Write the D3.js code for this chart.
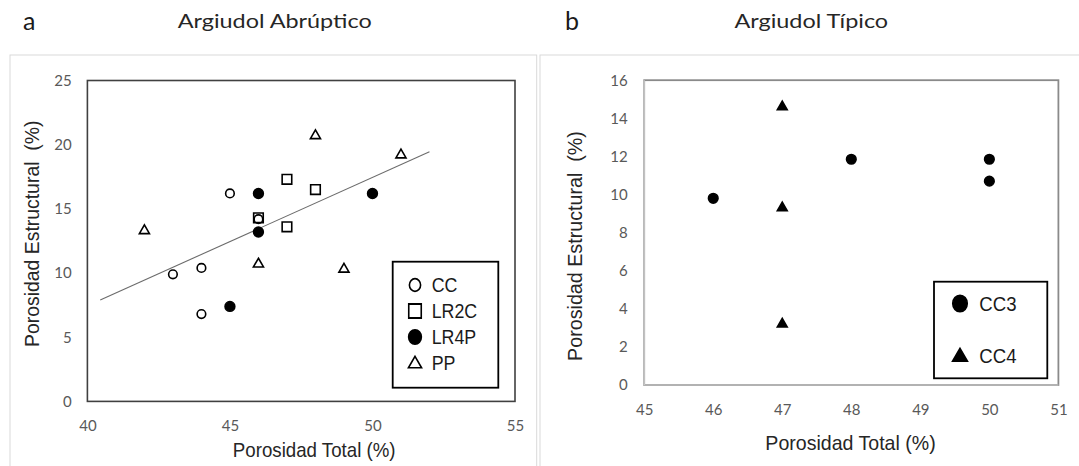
<!DOCTYPE html>
<html>
<head>
<meta charset="utf-8">
<script src="https://cdn.jsdelivr.net/npm/d3@7"></script>
<style>
  body { margin: 0; background: #fff; }
  svg { display: block; }
</style>
</head>
<body>
<svg id="chart"></svg>
<script>
// ---- panel a : Argiudol Abruptico ----
const seriesA = ["CC", "LR2C", "LR4P", "PP"]
const ccX = [43, 44, 44, 45, 46]
const ccY = [9.9, 10.4, 6.8, 16.2, 14.2]
const lr2cX = [46, 47, 47, 48]
const lr2cY = [14.3, 17.3, 13.6, 16.5]
const lr4pX = [45, 46, 46, 50]
const lr4pY = [7.4, 16.2, 13.2, 16.2]
const ppX = [42, 46, 48, 49, 51]
const ppY = [13.3, 10.7, 20.7, 10.3, 19.2]
// linear trend drawn in the original (end points)
const trendX = [40.45, 52]
const trendY = [7.9, 19.45]
const xTicksA = [40, 45, 50, 55]
const yTicksA = [0, 5, 10, 15, 20, 25]

// ---- panel b : Argiudol Tipico ----
const seriesB = ["CC3", "CC4"]
const cc3X = [46, 48, 50, 50]
const cc3Y = [9.8, 11.85, 11.85, 10.7]
const cc4X = [47, 47, 47]
const cc4Y = [14.6, 9.3, 3.2]
const xTicksB = [45, 46, 47, 48, 49, 50, 51]
const yTicksB = [0, 2, 4, 6, 8, 10, 12, 14, 16]

const W = 1079, H = 466
const tickFont = "Lato, 'Open Sans', sans-serif"
const arial = "'Liberation Sans', Arial, sans-serif"

var svg = d3.select("#chart").attr("width", W).attr("height", H)

function zip(xs, ys) { return xs.map((x, i) => ({x: x, y: ys[i]})) }

// marker styles (open markers have no fill, like the excel original)
const markers = {
    CC:   {type: d3.symbolCircle,   size: 58,  fill: "none", stroke: "#000"},
    LR2C: {type: d3.symbolSquare,   size: 92,  fill: "none", stroke: "#000"},
    LR4P: {type: d3.symbolCircle,   size: 75,  fill: "#000", stroke: "#000"},
    PP:   {type: d3.symbolTriangle, size: 44,  fill: "none", stroke: "#000"},
    CC3:  {type: d3.symbolCircle,   size: 72,  fill: "#000", stroke: "#000"},
    CC4:  {type: d3.symbolTriangle, size: 42,  fill: "#000", stroke: "#000"}
}

function drawPanel(p) {
    var g = svg.append("g")

    // outer light frame of each chart
    g.append("rect")
        .attr("x", p.frame[0]).attr("y", p.frame[1])
        .attr("width", p.frame[2]).attr("height", p.frame[3])
        .attr("fill", "none").attr("stroke", "#d9d9d9").attr("stroke-width", 1)

    var x = d3.scaleLinear().domain(p.xDomain).range(p.xRange)
    var y = d3.scaleLinear().domain(p.yDomain).range(p.yRange)

    // plot area border
    g.append("rect")
        .attr("x", p.xRange[0]).attr("y", p.yRange[1])
        .attr("width", p.xRange[1] - p.xRange[0])
        .attr("height", p.yRange[0] - p.yRange[1])
        .attr("fill", "none")
        .attr("stroke", p.borderColor)
        .attr("stroke-width", p.borderWidth)

    if (p.axisLineColor) {
        g.append("path")
            .attr("d", `M${p.xRange[0]},${p.yRange[1]}V${p.yRange[0]}H${p.xRange[1]}`)
            .attr("fill", "none").attr("stroke", p.axisLineColor).attr("stroke-width", 1.2)
    }

    var xAxis = g.append("g")
        .attr("transform", `translate(0,${p.yRange[0]})`)
        .call(d3.axisBottom(x).tickValues(p.xTicks).tickFormat(d3.format("d")).tickSize(0).tickPadding(p.xPad))
    var yAxis = g.append("g")
        .attr("transform", `translate(${p.xRange[0]},0)`)
        .call(d3.axisLeft(y).tickValues(p.yTicks).tickFormat(d3.format("d")).tickSize(0).tickPadding(p.yPad))
    ;[xAxis, yAxis].forEach(a => {
        a.select(".domain").remove()
        a.selectAll("text")
            .attr("font-family", tickFont)
            .attr("font-size", 15)
            .attr("fill", "#595959")
    })

    // trend line
    if (p.trend) {
        g.append("path")
            .datum(p.trend)
            .attr("d", d3.line().x(d => x(d.x)).y(d => y(d.y)))
            .attr("fill", "none").attr("stroke", "#6b6b6b").attr("stroke-width", 1.1)
    }

    // points
    p.series.forEach(s => {
        var m = markers[s.name]
        g.append("g").selectAll("path")
            .data(s.points)
            .join("path")
            .attr("d", d3.symbol().type(m.type).size(m.size))
            .attr("transform", d => `translate(${x(d.x)},${y(d.y)})`)
            .attr("fill", m.fill)
            .attr("stroke", m.stroke)
            .attr("stroke-width", 1.6)
    })

    // titles
    svg.append("text")
        .attr("x", p.letter[0]).attr("y", p.letter[1])
        .attr("font-family", tickFont).attr("font-size", 25).attr("fill", "#1a1a1a")
        .text(p.letter[2])
    svg.append("text")
        .attr("x", p.title[0]).attr("y", p.title[1])
        .attr("text-anchor", "middle")
        .attr("font-family", tickFont).attr("font-size", 19).attr("fill", "#262626")
        .attr("textLength", p.title[2]).attr("lengthAdjust", "spacingAndGlyphs")
        .text(p.title[3])

    // axis titles
    g.append("text")
        .attr("x", p.xTitle[0]).attr("y", p.xTitle[1])
        .attr("text-anchor", "middle")
        .attr("font-family", arial).attr("font-size", 21).attr("fill", "#262626")
        .attr("textLength", p.xTitle[2]).attr("lengthAdjust", "spacingAndGlyphs")
        .text("Porosidad Total (%)")
    g.append("text")
        .attr("transform", `translate(${p.yTitle[0]},${p.yTitle[1]}) rotate(-90)`)
        .attr("text-anchor", "middle")
        .style("white-space", "pre")
        .attr("font-family", arial).attr("font-size", 21).attr("fill", "#262626")
        .attr("textLength", p.yTitle[2]).attr("lengthAdjust", "spacingAndGlyphs")
        .text("Porosidad Estructural  (%)")

    // legend
    var L = p.legend
    g.append("rect")
        .attr("x", L.box[0]).attr("y", L.box[1])
        .attr("width", L.box[2]).attr("height", L.box[3])
        .attr("fill", "#fff").attr("stroke", "#000").attr("stroke-width", 1.8)
    var items = g.append("g").selectAll("g")
        .data(p.series)
        .join("g")
        .attr("transform", (d, i) => `translate(${L.x},${L.y0 + i * L.step})`)
    items.append("path")
        .attr("d", d => d3.symbol().type(markers[d.name].type).size(markers[d.name].size * L.scale)())
        .attr("transform", d => markers[d.name].type === d3.symbolTriangle ? "translate(0,1)" : "scale(1,1.12)")
        .attr("fill", d => markers[d.name].fill)
        .attr("stroke", "#000").attr("stroke-width", 1.6)
    items.append("text")
        .attr("transform", `translate(${L.tx},0) scale(${L.sx},1)`)
        .attr("dy", "0.36em")
        .attr("font-family", arial).attr("font-size", L.fs).attr("fill", "#1a1a1a")
        .text(d => d.name)
}

drawPanel({
    frame: [10, 55, 526.7, 430],
    xDomain: [40, 55], xRange: [87.4, 515],
    yDomain: [0, 25], yRange: [401.4, 80.5],
    borderColor: "#404040", borderWidth: 1.6,
    xTicks: xTicksA, yTicks: yTicksA, xPad: 18.7, yPad: 15.8,
    trend: zip(trendX, trendY),
    series: [
        {name: seriesA[0], points: zip(ccX, ccY)},
        {name: seriesA[1], points: zip(lr2cX, lr2cY)},
        {name: seriesA[2], points: zip(lr4pX, lr4pY)},
        {name: seriesA[3], points: zip(ppX, ppY)}
    ],
    letter: [23, 29.5, "a"],
    title: [274.7, 28.2, 194, "Argiudol Abrúptico"],
    xTitle: [314.2, 457.2, 162.7],
    yTitle: [39, 233.8, 226.5],
    legend: {box: [392.7, 261.7, 105.6, 126], x: 415, tx: 16.7, y0: 285, step: 26, scale: 1.7, fs: 20, sx: 0.89}
})

drawPanel({
    frame: [540, 55, 600, 430],
    xDomain: [45, 51], xRange: [644.2, 1058.4],
    yDomain: [0, 16], yRange: [385, 80.2],
    borderColor: "#8a8a8a", borderWidth: 1.8, axisLineColor: "#cfcfcf",
    xTicks: xTicksB, yTicks: yTicksB, xPad: 19.8, yPad: 16.5,
    series: [
        {name: seriesB[0], points: zip(cc3X, cc3Y)},
        {name: seriesB[1], points: zip(cc4X, cc4Y)}
    ],
    letter: [565, 29.5, "b"],
    title: [811.3, 28.2, 153.7, "Argiudol Típico"],
    xTitle: [850.5, 450.3, 170.3],
    yTitle: [582, 246, 229.8],
    legend: {box: [934, 281.7, 113.3, 96.6], x: 960, tx: 19.3, y0: 303.5, step: 52.5, scale: 2.3, fs: 20, sx: 0.93}
})
</script>
</body>
</html>
